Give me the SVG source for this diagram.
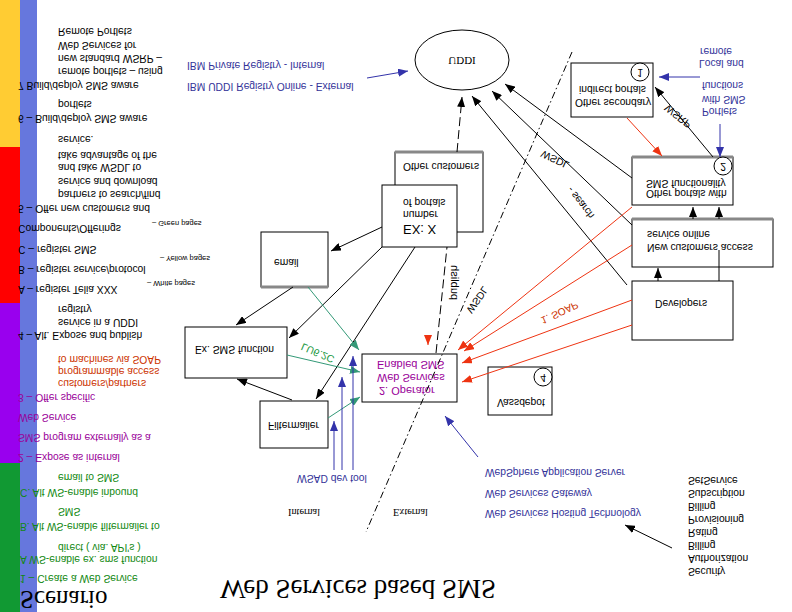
<svg xmlns="http://www.w3.org/2000/svg" width="792" height="612" viewBox="0 0 792 612">
<style>
text{font-family:"Liberation Sans",Arial,sans-serif;font-size:10.3px;fill:#000}
.serif{font-family:"Liberation Serif","Times New Roman",serif}
.sm{font-size:7.5px}
.g{fill:#118811}.p{fill:#990099}.r{fill:#cc3300}.b{fill:#333399}
.box{fill:#fff;stroke:#000;stroke-width:1}
.sh{stroke:#888;stroke-width:3}
.k{stroke:#000;stroke-width:1;fill:none}
.bl{stroke:#3333aa;stroke-width:1;fill:none}
.rd{stroke:#ee3311;stroke-width:1;fill:none}
.gr{stroke:#339977;stroke-width:1;fill:none}
</style>
<defs>
<marker id="ak" markerUnits="userSpaceOnUse" markerWidth="10" markerHeight="8" refX="10" refY="4" orient="auto"><path d="M0,0L10,4L0,8z" fill="#000"/></marker>
<marker id="ab" markerUnits="userSpaceOnUse" markerWidth="10" markerHeight="8" refX="10" refY="4" orient="auto"><path d="M0,0L10,4L0,8z" fill="#3333aa"/></marker>
<marker id="ar" markerUnits="userSpaceOnUse" markerWidth="10" markerHeight="8" refX="10" refY="4" orient="auto"><path d="M0,0L10,4L0,8z" fill="#ee3311"/></marker>
<marker id="ag" markerUnits="userSpaceOnUse" markerWidth="10" markerHeight="8" refX="10" refY="4" orient="auto"><path d="M0,0L10,4L0,8z" fill="#339977"/></marker>
</defs>
<rect width="792" height="612" fill="#fff"/>
<g id="sidebar">
<rect x="0" y="0" width="20" height="147" fill="#ffcc33"/>
<rect x="0" y="147" width="20" height="156" fill="#ff0000"/>
<rect x="0" y="303" width="20" height="160" fill="#9900ee"/>
<rect x="0" y="463" width="20" height="149" fill="#119933"/>
<rect x="20" y="0" width="17" height="612" fill="#6677dd"/>
<text transform="translate(58,28) scale(1,-1)">Remote Portlets</text>
<text transform="translate(58,42) scale(1,-1)">Web Services for</text>
<text transform="translate(58,55) scale(1,-1)">new standard WSRP –</text>
<text transform="translate(58,68) scale(1,-1)">remote portlets – using</text>
<text transform="translate(18,82) scale(1,-1)">7  Build/deploy SMS aware</text>
<text transform="translate(58,101) scale(1,-1)">portlets</text>
<text transform="translate(18,115) scale(1,-1)">6 – Build/deploy SMS aware</text>
<text transform="translate(58,136) scale(1,-1)">service.</text>
<text transform="translate(58,152) scale(1,-1)">take advantage of the</text>
<text transform="translate(58,164) scale(1,-1)">and take WSDL to</text>
<text transform="translate(58,178) scale(1,-1)">service and download</text>
<text transform="translate(58,191) scale(1,-1)">partners to search/find</text>
<text transform="translate(18,205) scale(1,-1)">5 – Offer new customers and</text>
<text transform="translate(18,225) scale(1,-1)">Components/Offerings</text>
<text class="sm" transform="translate(152,221) scale(1,-1)">– Green pages</text>
<text transform="translate(18,246) scale(1,-1)">C – register SMS</text>
<text class="sm" transform="translate(160,256) scale(1,-1)">– Yellow pages</text>
<text transform="translate(18,266) scale(1,-1)">B – register service/protocol</text>
<text class="sm" transform="translate(147,281) scale(1,-1)">– White pages</text>
<text transform="translate(18,286) scale(1,-1)">A – register Telia XXX</text>
<text transform="translate(58,306) scale(1,-1)">registry</text>
<text transform="translate(58,319) scale(1,-1)">service in a UDDI</text>
<text transform="translate(18,332) scale(1,-1)">4 – Alt. Expose and publish</text>
<text class="r" transform="translate(58,356) scale(1,-1)">to machines via SOAP</text>
<text class="r" transform="translate(58,368) scale(1,-1)">programmable access</text>
<text class="r" transform="translate(58,380) scale(1,-1)">customers/partners</text>
<text class="p" transform="translate(18,394) scale(1,-1)">3 – Offer specific</text>
<text class="p" transform="translate(18,414) scale(1,-1)">Web Service</text>
<text class="p" transform="translate(18,434) scale(1,-1)">SMS program externally as a</text>
<text class="p" transform="translate(18,454) scale(1,-1)">2 – Expose as internal</text>
<text class="g" transform="translate(58,474) scale(1,-1)">email to SMS</text>
<text class="g" transform="translate(20,489) scale(1,-1)">C. Alt WS-enable inbound</text>
<text class="g" transform="translate(58,508) scale(1,-1)">SMS</text>
<text class="g" transform="translate(20,523) scale(1,-1)">B. Alt WS-enable filtermailer to</text>
<text class="g" transform="translate(58,544) scale(1,-1)">direct ( via. API's )</text>
<text class="g" transform="translate(20,556) scale(1,-1)">A WS-enable ex. sms function</text>
<text class="g" transform="translate(20,575) scale(1,-1)">1 – Create a Web Service</text>
<text class="serif" style="font-size:25px" transform="translate(20,591) scale(1,-1)">Scenario</text>
</g>
<g id="title"><text class="serif" style="font-size:27px" transform="translate(220,580) scale(1,-1)">Web Services based SMS</text></g>
<g id="uddi">
<ellipse cx="462" cy="60" rx="47" ry="30" fill="#fff" stroke="#000"/>
<text class="serif" style="font-size:11px" text-anchor="middle" transform="translate(462,57) scale(1,-1)">UDDI</text>
</g>
<g id="registries">
<text class="b" transform="translate(187,62) scale(1,-1)">IBM Private Registry - Internal</text>
<text class="b" transform="translate(187,83) scale(1,-1)">IBM UDDI Registry Online - External</text>
</g>
<g id="other-secondary">
<rect class="box" x="571" y="63" width="82" height="54"/>
<circle cx="640" cy="72" r="9" fill="#fff" stroke="#000"/>
<text text-anchor="middle" transform="translate(640,69) scale(1,-1)">1</text>
<text transform="translate(575,99) scale(1,-1)">Other secondary</text>
<text transform="translate(579,86) scale(1,-1)">indirect portals</text>
</g>
<g id="portlets-note">
<text class="b" transform="translate(702,108) scale(1,-1)">Portlets</text>
<text class="b" transform="translate(702,96) scale(1,-1)">with SMS</text>
<text class="b" transform="translate(702,82) scale(1,-1)">functions</text>
<text class="b" transform="translate(699,60) scale(1,-1)">Local and</text>
<text class="b" transform="translate(700,48) scale(1,-1)">remote</text>
</g>
<g id="other-portals">
<rect class="box" x="632" y="157" width="101" height="48"/>
<line class="sh" x1="632" y1="157" x2="733" y2="157"/>
<circle cx="723" cy="166" r="9" fill="#fff" stroke="#000"/>
<text text-anchor="middle" transform="translate(723,163) scale(1,-1)">2</text>
<text transform="translate(646,190) scale(1,-1)">Other portals with</text>
<text transform="translate(646,180) scale(1,-1)">SMS functionality</text>
</g>
<g id="new-customers">
<rect class="box" x="632" y="219" width="141" height="48"/>
<line class="sh" x1="632" y1="219" x2="773" y2="219"/>
<text transform="translate(647,244) scale(1,-1)">New customers access</text>
<text transform="translate(647,231) scale(1,-1)">service online</text>
</g>
<g id="developers">
<rect class="box" x="632" y="281" width="101" height="59"/>
<text transform="translate(655,300) scale(1,-1)">Developers</text>
</g>
<g id="other-customers">
<rect class="box" x="395" y="152" width="88" height="80"/>
<line class="sh" x1="395" y1="152" x2="483" y2="152"/>
<text transform="translate(403,163) scale(1,-1)">Other customers</text>
</g>
<g id="ex-x">
<rect class="box" x="382" y="185" width="75" height="62"/>
<text style="font-size:13px" transform="translate(403,225) scale(1,-1)">EX: X</text>
<text transform="translate(403,211) scale(1,-1)">number</text>
<text transform="translate(403,199) scale(1,-1)">of portals</text>
</g>
<g id="email">
<rect class="box" x="261" y="232" width="67" height="55"/>
<line class="sh" x1="261" y1="287" x2="328" y2="287"/>
<text transform="translate(274,259) scale(1,-1)">email</text>
</g>
<g id="ex-sms">
<rect class="box" x="185" y="327" width="102" height="51"/>
<text transform="translate(195,346) scale(1,-1)">Ex. SMS function</text>
</g>
<g id="filtermailer">
<rect class="box" x="260" y="401" width="68" height="47"/>
<text transform="translate(268,422) scale(1,-1)">Filtermailer</text>
</g>
<g id="operator">
<rect class="box" x="362" y="354" width="95" height="48"/>
<text class="p" style="font-size:11px" transform="translate(377,361) scale(1,-1)">Enabled SMS</text>
<text class="p" style="font-size:11px" transform="translate(377,374) scale(1,-1)">Web Services</text>
<text class="p" style="font-size:11px" transform="translate(379,387) scale(1,-1)">2. Operator</text>
</g>
<g id="vassdepot">
<rect class="box" x="488" y="367" width="64" height="48"/>
<circle cx="543" cy="377" r="9" fill="#fff" stroke="#000"/>
<text text-anchor="middle" transform="translate(543,374) scale(1,-1)">4</text>
<text transform="translate(497,399) scale(1,-1)">Vassdepot</text>
</g>
<g id="hosting">
<text class="b" transform="translate(485,469) scale(1,-1)">WebSphere Application Server</text>
<text class="b" transform="translate(485,490) scale(1,-1)">Web Services Gateway</text>
<text class="b" transform="translate(485,510) scale(1,-1)">Web Services Hosting Technology</text>
<text class="b" transform="translate(297,475) scale(1,-1)">WSAD dev tool</text>
</g>
<g id="services">
<text transform="translate(688,477) scale(1,-1)">SetService</text>
<text transform="translate(688,490) scale(1,-1)">Subscription</text>
<text transform="translate(688,503) scale(1,-1)">Billing</text>
<text transform="translate(688,516) scale(1,-1)">Provisioning</text>
<text transform="translate(688,529) scale(1,-1)">Rating</text>
<text transform="translate(688,542) scale(1,-1)">Billing</text>
<text transform="translate(688,555) scale(1,-1)">Authorization</text>
<text transform="translate(688,568) scale(1,-1)">Security</text>
</g>
<g id="zones">
<text class="serif" transform="translate(288,509) scale(1,-1)">Internal</text>
<text class="serif" transform="translate(393,509) scale(1,-1)">External</text>
</g>
<g id="connectors">
<line class="bl" x1="367" y1="78" x2="408" y2="71" marker-end="url(#ab)"/>
<line class="bl" x1="700" y1="77" x2="659" y2="77" marker-end="url(#ab)"/>
<line class="bl" x1="720" y1="124" x2="720" y2="157" marker-end="url(#ab)"/>
<line class="rd" x1="627" y1="118" x2="662" y2="156" marker-end="url(#ar)"/>
<line class="k" x1="713" y1="157" x2="655" y2="87" marker-end="url(#ak)"/>
<line class="k" x1="627" y1="285" x2="472" y2="96" marker-end="url(#ak)"/>
<line class="k" x1="632" y1="225" x2="492" y2="91" marker-end="url(#ak)"/>
<line class="k" x1="632" y1="178" x2="505" y2="84" marker-end="url(#ak)"/>
<line class="k" x1="457" y1="152" x2="462" y2="97" stroke-dasharray="9 4" marker-end="url(#ak)"/>
<line class="k" x1="436" y1="353" x2="447" y2="247" stroke-dasharray="9 4"/>
<line class="k" x1="693" y1="219" x2="693" y2="207" marker-end="url(#ak)"/>
<line class="k" x1="719" y1="219" x2="719" y2="207" marker-end="url(#ak)"/>
<line class="k" x1="658" y1="281" x2="658" y2="268" marker-end="url(#ak)"/>
<line class="k" x1="719" y1="281" x2="719" y2="250"/>
<line class="k" x1="382" y1="227" x2="331" y2="251" marker-end="url(#ak)"/>
<line class="k" x1="293" y1="287" x2="236" y2="325" marker-end="url(#ak)"/>
<line class="k" x1="382" y1="247" x2="289" y2="338" marker-end="url(#ak)"/>
<line class="k" x1="415" y1="247" x2="316" y2="399" marker-end="url(#ak)"/>
<line class="k" x1="292" y1="400" x2="237" y2="379" marker-end="url(#ak)"/>
<line class="gr" x1="308" y1="287" x2="359" y2="350" marker-end="url(#ag)"/>
<line class="gr" x1="287" y1="355" x2="360" y2="372" marker-end="url(#ag)"/>
<line class="gr" x1="328" y1="418" x2="360" y2="397" marker-end="url(#ag)"/>
<line class="bl" x1="334" y1="470" x2="334" y2="421" marker-end="url(#ab)"/>
<line class="bl" x1="342" y1="470" x2="342" y2="377" marker-end="url(#ab)"/>
<line class="bl" x1="353" y1="470" x2="353" y2="356" marker-end="url(#ab)"/>
<line class="bl" x1="478" y1="457" x2="445" y2="416" marker-end="url(#ab)"/>
<line class="rd" x1="632" y1="207" x2="458" y2="350" marker-end="url(#ar)"/>
<line class="rd" x1="632" y1="245" x2="464" y2="351" marker-end="url(#ar)"/>
<line class="rd" x1="632" y1="300" x2="462" y2="363" marker-end="url(#ar)"/>
<line class="rd" x1="632" y1="325" x2="462" y2="382" marker-end="url(#ar)"/>
<line class="rd" x1="428" y1="335" x2="428" y2="345" marker-end="url(#ar)"/>
<line class="k" x1="672" y1="548" x2="625" y2="525" marker-end="url(#ak)"/>
<line class="k" x1="572" y1="52" x2="366" y2="532" stroke-dasharray="7 3 1.5 3"/>
<text transform="translate(668,104) rotate(38) scale(1,-1)">WSRP</text>
<text transform="translate(543,150) rotate(25) scale(1,-1)">WSDL</text>
<text transform="translate(572,186) rotate(52) scale(1,-1)">- search</text>
<text transform="translate(451,300) rotate(-90) scale(1,-1)" style="font-size:11px">publish</text>
<text transform="translate(466,310) rotate(-55) scale(1,-1)">WSDL</text>
<text class="r" transform="translate(540,318) rotate(-25) scale(1,-1)">1. SOAP</text>
<text style="fill:#229944" transform="translate(303,343) rotate(23) scale(1,-1)">LU6.2C</text>
</g>
</svg>
